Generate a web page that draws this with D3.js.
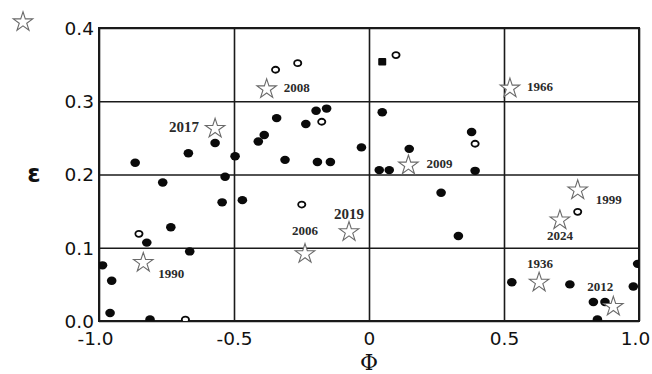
<!DOCTYPE html>
<html>
<head>
<meta charset="utf-8">
<script src="https://cdn.jsdelivr.net/npm/d3@7"></script>
<style>
  html, body { margin: 0; padding: 0; background: #fff; }
  svg { display: block; }
</style>
</head>
<body>
<svg id="chart" width="652" height="374"></svg>
<script>
// ---------------- data ----------------
const xTickValues = [-1.0, -0.5, 0, 0.5, 1.0];
const xTickLabels = ["-1.0", "-0.5", "0", "0.5", "1.0"];
const yTickValues = [0.0, 0.1, 0.2, 0.3, 0.4];
const yTickLabels = ["0.0", "0.1", "0.2", "0.3", "0.4"];

// filled circles
const phiFilled = [-0.866, -0.669, -0.570, -0.496, -0.533, -0.764, -0.544, -0.469, -0.734, -0.823,
  -0.664, -0.987, -0.953, -0.959, -0.811, -0.196, -0.157, -0.342, -0.234, -0.388,
  -0.410, -0.028, -0.311, -0.191, -0.143, 0.049, 0.380, 0.149, 0.038, 0.075,
  0.393, 0.267, 0.331, 0.529, 0.744, 0.979, 0.995, 0.831, 0.874, 0.846];
const epsFilled = [0.216, 0.229, 0.243, 0.225, 0.197, 0.189, 0.162, 0.165, 0.128, 0.107,
  0.095, 0.076, 0.055, 0.011, 0.002, 0.287, 0.290, 0.277, 0.269, 0.254,
  0.245, 0.237, 0.220, 0.217, 0.217, 0.285, 0.258, 0.235, 0.206, 0.206,
  0.205, 0.175, 0.116, 0.053, 0.050, 0.047, 0.078, 0.026, 0.026, 0.002];

// open circles
const phiOpen = [-0.852, -0.680, -0.346, -0.264, -0.175, 0.100, 0.393, -0.249, 0.773];
const epsOpen = [0.119, 0.002, 0.343, 0.352, 0.272, 0.363, 0.242, 0.159, 0.149];

// filled square
const phiSquare = [0.049];
const epsSquare = [0.354];

// stars (labelled years)
const starYears = ["2017", "2008", "1966", "2009", "1999", "2024", "2019", "2006", "1990", "1936", "2012"];
const starPhi = [-0.570, -0.379, 0.522, 0.146, 0.773, 0.707, -0.074, -0.237, -0.836, 0.630, 0.905];
const starEps = [0.264, 0.318, 0.319, 0.214, 0.180, 0.139, 0.123, 0.093, 0.081, 0.054, 0.021];

// ---------------- layout (label placement, px) ----------------
const labelLayout = [
  {dx: -16, dy: 4, anchor: "end", size: 15},
  {dx: 17, dy: 4, anchor: "start", size: 13},
  {dx: 17, dy: 4, anchor: "start", size: 13},
  {dx: 18, dy: 4, anchor: "start", size: 13},
  {dx: 18, dy: 15, anchor: "start", size: 13},
  {dx: 0, dy: 21, anchor: "middle", size: 13},
  {dx: 0, dy: -12, anchor: "middle", size: 15},
  {dx: 0, dy: -18, anchor: "middle", size: 13},
  {dx: 15, dy: 16, anchor: "start", size: 13},
  {dx: 1, dy: -13, anchor: "middle", size: 13},
  {dx: -13, dy: -15, anchor: "middle", size: 13}
];

const M = {left: 99, right: 13, top: 28, bottom: 53};
const W = 652, H = 374;
const svg = d3.select("#chart");

const x = d3.scaleLinear().domain([-1, 1]).range([M.left, W - M.right]);
const y = d3.scaleLinear().domain([0, 0.4]).range([H - M.bottom, M.top]);

const lineColor = "#1a1a1a";

// grid via axes
const gx = svg.append("g")
  .attr("transform", `translate(0,${y(0)})`)
  .call(d3.axisBottom(x).tickValues(xTickValues)
    .tickSize(-(y(0) - y(0.4)))
    .tickPadding(11)
    .tickFormat((d, i) => xTickLabels[i]));
gx.select(".domain").remove();
gx.selectAll("line").attr("stroke", lineColor).attr("stroke-width", 1.6);
gx.selectAll("text")
  .attr("fill", "#111")
  .attr("dx", (d, i) => i === 0 ? -4 : (i === xTickValues.length - 1 ? -4 : 0))
  .style("font-family", "'DejaVu Sans', sans-serif")
  .style("font-size", "18.5px");

const gy = svg.append("g")
  .attr("transform", `translate(${x(-1)},0)`)
  .call(d3.axisLeft(y).tickValues(yTickValues)
    .tickSize(-(x(1) - x(-1)))
    .tickPadding(5)
    .tickFormat((d, i) => yTickLabels[i]));
gy.select(".domain").remove();
gy.selectAll("line").attr("stroke", lineColor).attr("stroke-width", 1.6);
gy.selectAll("text")
  .attr("fill", "#111")
  .attr("dy", "0.34em")
  .style("font-family", "'DejaVu Sans', sans-serif")
  .style("font-size", "18.5px");

// frame
svg.append("rect")
  .attr("x", x(-1)).attr("y", y(0.4))
  .attr("width", x(1) - x(-1)).attr("height", y(0) - y(0.4))
  .attr("fill", "none").attr("stroke", lineColor).attr("stroke-width", 2);

// axis titles
svg.append("text")
  .attr("x", 34).attr("y", 182)
  .attr("text-anchor", "middle")
  .attr("fill", "#111")
  .style("font-family", "'DejaVu Sans', sans-serif")
  .style("font-weight", "bold")
  .style("font-size", "24px")
  .text("ε");

svg.append("text")
  .attr("x", x(0)).attr("y", 370)
  .attr("text-anchor", "middle")
  .attr("fill", "#111")
  .style("font-family", "'DejaVu Serif', serif")
  .style("font-size", "22px")
  .text("Φ");

// clip for points
svg.append("clipPath").attr("id", "plotclip")
  .append("rect")
  .attr("x", x(-1)).attr("y", y(0.4))
  .attr("width", x(1) - x(-1)).attr("height", y(0) - y(0.4));

const pts = svg.append("g").attr("clip-path", "url(#plotclip)");

pts.selectAll("ellipse.filled")
  .data(d3.range(phiFilled.length))
  .join("ellipse")
  .attr("class", "filled")
  .attr("cx", i => x(phiFilled[i]))
  .attr("cy", i => y(epsFilled[i]))
  .attr("rx", 4.8).attr("ry", 4.2)
  .attr("fill", "#0a0a0a");

pts.selectAll("ellipse.open")
  .data(d3.range(phiOpen.length))
  .join("ellipse")
  .attr("class", "open")
  .attr("cx", i => x(phiOpen[i]))
  .attr("cy", i => y(epsOpen[i]))
  .attr("rx", 3.6).attr("ry", 3.0)
  .attr("fill", "#fff")
  .attr("stroke", "#0a0a0a")
  .attr("stroke-width", 1.8);

pts.selectAll("rect.sq")
  .data(d3.range(phiSquare.length))
  .join("rect")
  .attr("class", "sq")
  .attr("x", i => x(phiSquare[i]) - 4)
  .attr("y", i => y(epsSquare[i]) - 3.8)
  .attr("width", 8).attr("height", 7.6)
  .attr("rx", 1)
  .attr("fill", "#0a0a0a");

// stars
const starPath = d3.symbol().type(d3.symbolStar).size(118)();
const starColor = "#6a6a6a";

svg.selectAll("path.star")
  .data(d3.range(starYears.length))
  .join("path")
  .attr("class", "star")
  .attr("d", starPath)
  .attr("transform", i => `translate(${x(starPhi[i])},${y(starEps[i]) + 1})`)
  .attr("fill", "#fff")
  .attr("stroke", starColor)
  .attr("stroke-width", 1.1)
  .attr("stroke-linejoin", "miter");

svg.selectAll("text.year")
  .data(d3.range(starYears.length))
  .join("text")
  .attr("class", "year")
  .attr("x", i => x(starPhi[i]) + labelLayout[i].dx)
  .attr("y", i => y(starEps[i]) + labelLayout[i].dy)
  .attr("text-anchor", i => labelLayout[i].anchor)
  .attr("fill", "#2a2a2a")
  .style("font-family", "'Liberation Serif', 'Times New Roman', serif")
  .style("font-weight", "bold")
  .style("font-size", i => labelLayout[i].size + "px")
  .text(i => starYears[i]);

// top-left legend star
svg.append("path")
  .attr("d", starPath)
  .attr("transform", "translate(23,22)")
  .attr("fill", "#fff")
  .attr("stroke", starColor)
  .attr("stroke-width", 1.1);
</script>
</body>
</html>
